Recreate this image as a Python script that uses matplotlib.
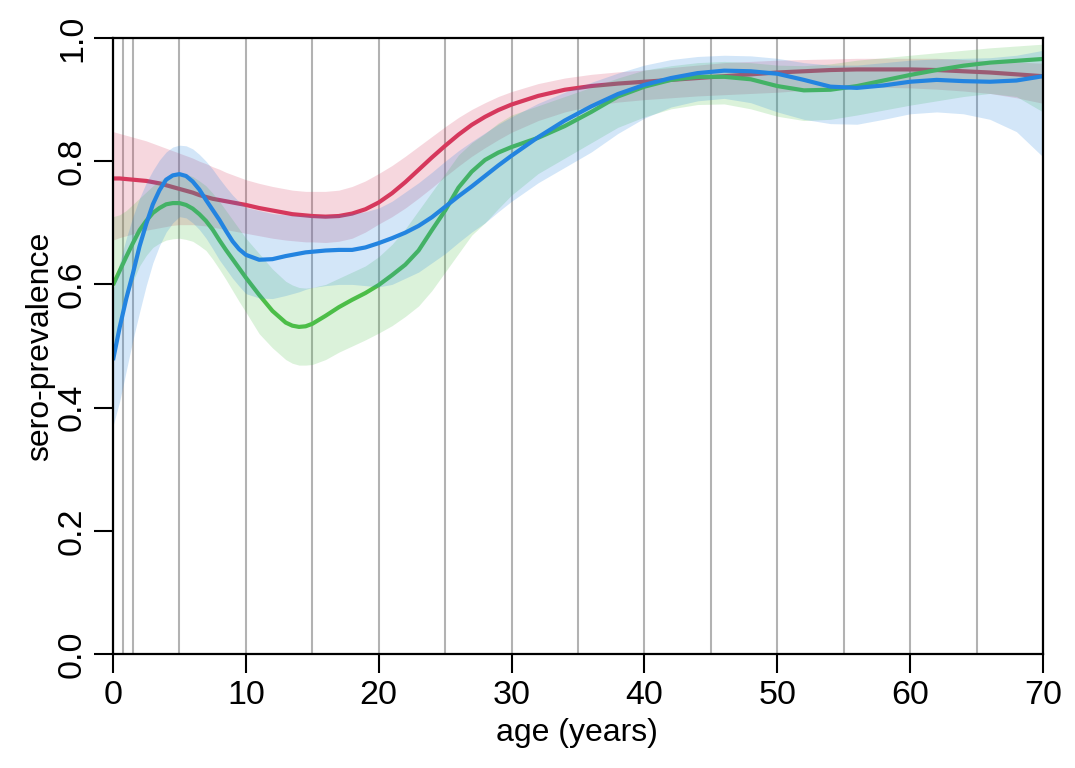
import matplotlib
matplotlib.use("Agg")
import matplotlib.pyplot as plt

plt.rcParams['font.family'] = ['Liberation Sans', 'DejaVu Sans']

# age grid (years)
age = [0, 0.5, 1, 1.5, 2, 2.5, 3, 3.5, 4, 4.5, 5, 5.5, 6, 6.5, 7, 7.5, 8, 8.5, 9, 9.5,
       10, 11, 12, 13, 13.5, 14, 14.5, 15, 16, 17, 18, 19,
       20, 21, 22, 23, 24, 25, 26, 27, 28, 29, 30, 32, 34, 36, 38, 40, 42, 44, 46, 48, 50,
       52, 54, 56, 58, 60, 62, 64, 66, 68, 70]

# red series
red_mean = [0.772, 0.772, 0.771, 0.770, 0.769, 0.768, 0.766, 0.764, 0.761, 0.758, 0.755,
            0.752, 0.749, 0.745, 0.742, 0.739, 0.737, 0.735, 0.733, 0.731,
            0.729, 0.724, 0.720, 0.716, 0.714, 0.713, 0.712, 0.711, 0.710, 0.711, 0.715, 0.722,
            0.733, 0.748, 0.766, 0.786, 0.806, 0.825, 0.843, 0.859, 0.872, 0.883, 0.892, 0.906,
            0.916, 0.922, 0.926, 0.929, 0.932, 0.935, 0.938, 0.941, 0.944, 0.946, 0.948,
            0.949, 0.949, 0.949, 0.948, 0.946, 0.944, 0.941, 0.938]
red_lo = [0.672, 0.676, 0.679, 0.682, 0.685, 0.688, 0.690, 0.692, 0.694, 0.696, 0.697,
          0.697, 0.697, 0.696, 0.695, 0.693, 0.691, 0.689, 0.687, 0.685,
          0.683, 0.679, 0.675, 0.672, 0.671, 0.670, 0.669, 0.669, 0.668, 0.670, 0.675, 0.685,
          0.698, 0.710, 0.724, 0.740, 0.757, 0.775, 0.792, 0.808, 0.822, 0.835, 0.847, 0.866,
          0.880, 0.890, 0.896, 0.900, 0.903, 0.906, 0.908, 0.910, 0.912, 0.915, 0.918,
          0.920, 0.920, 0.919, 0.917, 0.914, 0.910, 0.903, 0.894]
red_hi = [0.848, 0.845, 0.842, 0.839, 0.836, 0.833, 0.829, 0.825, 0.821, 0.817, 0.813,
          0.809, 0.805, 0.800, 0.796, 0.791, 0.787, 0.782, 0.778, 0.774,
          0.770, 0.764, 0.759, 0.755, 0.753, 0.752, 0.751, 0.751, 0.751, 0.753, 0.759, 0.768,
          0.780, 0.793, 0.808, 0.824, 0.840, 0.856, 0.871, 0.884, 0.895, 0.905, 0.913, 0.926,
          0.935, 0.941, 0.945, 0.948, 0.952, 0.956, 0.960, 0.962, 0.964, 0.965, 0.966,
          0.967, 0.967, 0.967, 0.967, 0.965, 0.963, 0.961, 0.959]

# green series
green_mean = [0.599, 0.622, 0.645, 0.667, 0.688, 0.703, 0.716, 0.724, 0.730, 0.732, 0.732,
              0.729, 0.723, 0.714, 0.703, 0.689, 0.672, 0.656, 0.641, 0.626,
              0.611, 0.583, 0.557, 0.538, 0.533, 0.531, 0.532, 0.536, 0.549, 0.563, 0.575, 0.586,
              0.599, 0.615, 0.632, 0.655, 0.688, 0.720, 0.757, 0.783, 0.802, 0.814, 0.823, 0.838,
              0.857, 0.880, 0.905, 0.921, 0.932, 0.937, 0.937, 0.933, 0.922, 0.915, 0.916,
              0.922, 0.931, 0.940, 0.948, 0.955, 0.960, 0.963, 0.966]
green_lo = [0.500, 0.540, 0.575, 0.605, 0.630, 0.647, 0.660, 0.667, 0.672, 0.674, 0.675,
            0.673, 0.670, 0.663, 0.655, 0.641, 0.625, 0.608, 0.590, 0.572,
            0.555, 0.520, 0.497, 0.478, 0.472, 0.469, 0.469, 0.470, 0.478, 0.490, 0.500, 0.510,
            0.521, 0.533, 0.548, 0.565, 0.590, 0.620, 0.650, 0.680, 0.700, 0.723, 0.745, 0.780,
            0.805, 0.830, 0.855, 0.872, 0.885, 0.892, 0.893, 0.885, 0.873, 0.866, 0.868,
            0.875, 0.883, 0.891, 0.898, 0.905, 0.910, 0.905, 0.880]
green_hi = [0.710, 0.713, 0.720, 0.730, 0.740, 0.750, 0.760, 0.768, 0.775, 0.779, 0.780,
            0.779, 0.775, 0.768, 0.760, 0.748, 0.735, 0.720, 0.705, 0.690,
            0.675, 0.650, 0.625, 0.605, 0.599, 0.595, 0.594, 0.595, 0.600, 0.610, 0.620, 0.630,
            0.645, 0.665, 0.690, 0.720, 0.750, 0.780, 0.810, 0.830, 0.845, 0.862, 0.875, 0.890,
            0.905, 0.920, 0.935, 0.948, 0.955, 0.960, 0.962, 0.960, 0.956, 0.955, 0.958,
            0.964, 0.968, 0.972, 0.976, 0.980, 0.984, 0.987, 0.990]

# blue series
blue_mean = [0.477, 0.530, 0.577, 0.618, 0.662, 0.698, 0.730, 0.753, 0.770, 0.777, 0.779,
             0.776, 0.767, 0.754, 0.737, 0.721, 0.705, 0.687, 0.670, 0.657,
             0.648, 0.640, 0.641, 0.646, 0.648, 0.650, 0.652, 0.653, 0.655, 0.656, 0.656, 0.660,
             0.667, 0.675, 0.684, 0.695, 0.709, 0.726, 0.743, 0.759, 0.776, 0.793, 0.809, 0.839,
             0.866, 0.889, 0.909, 0.924, 0.935, 0.943, 0.947, 0.946, 0.942, 0.932, 0.921,
             0.919, 0.923, 0.929, 0.932, 0.930, 0.929, 0.931, 0.938]
blue_lo = [0.370, 0.410, 0.460, 0.510, 0.555, 0.598, 0.635, 0.663, 0.685, 0.700, 0.710,
           0.708, 0.700, 0.689, 0.675, 0.658, 0.640, 0.625, 0.610, 0.597,
           0.585, 0.578, 0.577, 0.582, 0.585, 0.588, 0.592, 0.595, 0.598, 0.600, 0.600, 0.598,
           0.596, 0.600, 0.610, 0.620, 0.635, 0.650, 0.668, 0.685, 0.700, 0.718, 0.735, 0.765,
           0.790, 0.815, 0.845, 0.870, 0.888, 0.898, 0.902, 0.895, 0.880, 0.868, 0.861,
           0.860, 0.868, 0.877, 0.880, 0.877, 0.868, 0.848, 0.807]
blue_hi = [0.590, 0.635, 0.675, 0.710, 0.740, 0.765, 0.785, 0.802, 0.815, 0.823, 0.826,
           0.825, 0.820, 0.811, 0.800, 0.787, 0.772, 0.758, 0.745, 0.734,
           0.725, 0.720, 0.715, 0.713, 0.712, 0.712, 0.712, 0.712, 0.712, 0.713, 0.715, 0.718,
           0.724, 0.735, 0.750, 0.765, 0.782, 0.800, 0.817, 0.832, 0.846, 0.860, 0.872, 0.894,
           0.912, 0.928, 0.943, 0.956, 0.965, 0.970, 0.972, 0.971, 0.967, 0.960, 0.956,
           0.956, 0.960, 0.964, 0.966, 0.967, 0.968, 0.972, 0.980]

age_breaks = [0, 0.75, 1.5, 5, 10, 15, 20, 25, 30, 35, 40, 45, 50, 55, 60, 65, 70]
x_ticks = [0, 10, 20, 30, 40, 50, 60, 70]
y_ticks = [0.0, 0.2, 0.4, 0.6, 0.8, 1.0]
y_ticklabels = ["0.0", "0.2", "0.4", "0.6", "0.8", "1.0"]

RED = "#D6385C"
GREEN = "#4CBE48"
BLUE = "#2384E0"

fig = plt.figure(figsize=(10.75, 7.68), dpi=100)
ax = fig.add_axes([113 / 1075, 1 - 654 / 768, (1043 - 113) / 1075, (654 - 38) / 768])

for b in age_breaks:
    ax.axvline(b, color=(0, 0, 0, 0.3), lw=1.5, zorder=1)

series = [(red_mean, red_lo, red_hi, RED),
          (green_mean, green_lo, green_hi, GREEN),
          (blue_mean, blue_lo, blue_hi, BLUE)]
z = 2
for mean, lo, hi, col in series:
    ax.fill_between(age, lo, hi, color=col, alpha=0.2, lw=0, zorder=z)
    ax.plot(age, mean, color=col, lw=3.0, zorder=z + 0.5, solid_capstyle='butt',
            solid_joinstyle='round')
    z += 1

ax.set_xlim(0, 70)
ax.set_ylim(0, 1)
ax.set_xticks(x_ticks)
ax.set_xticklabels([str(t) for t in x_ticks])
ax.set_yticks(y_ticks)
ax.set_yticklabels(y_ticklabels, rotation=90, va='center')
ax.tick_params(axis='both', direction='out', length=14, width=1.5, labelsize=24.5,
               colors='black')
ax.tick_params(axis='x', pad=5)
ax.tick_params(axis='y', pad=4)
for s in ax.spines.values():
    s.set_linewidth(1.6)
    s.set_color('black')
    s.set_zorder(10)

fig.text(577 / 1075, 1 - 733 / 768, "age (years)", ha='center', va='center', fontsize=23)
fig.text(40 / 1075, 1 - 346 / 768, "sero-prevalence", ha='center', va='center',
         rotation=90, fontsize=23)

fig.savefig("out.png", dpi=100)
